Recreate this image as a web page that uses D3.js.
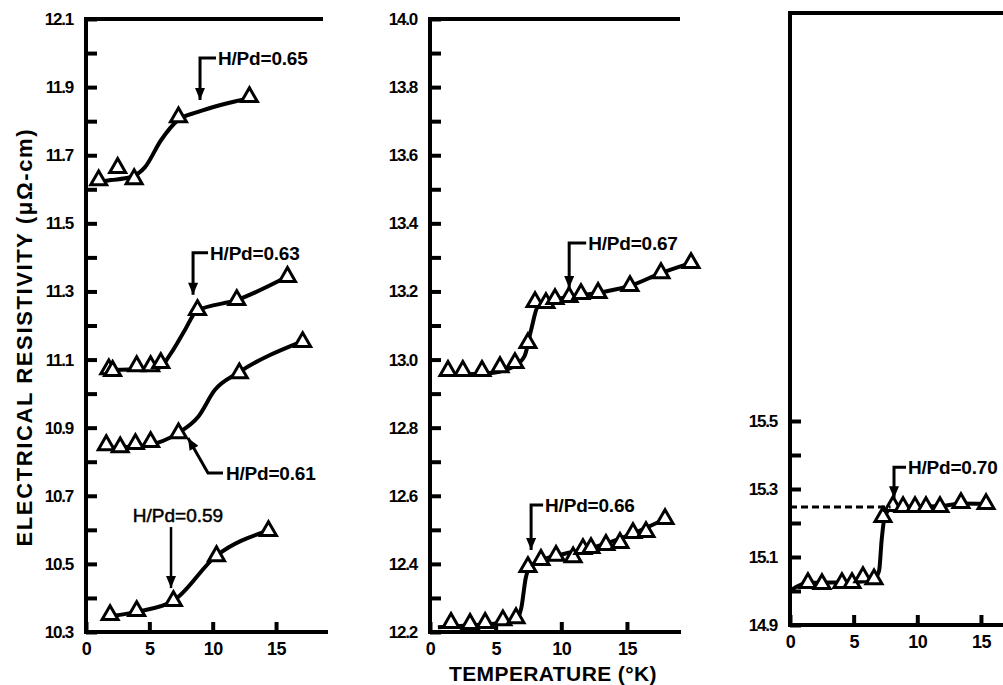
<!DOCTYPE html>
<html>
<head>
<meta charset="utf-8">
<script src="https://cdn.jsdelivr.net/npm/d3@7"></script>
<style>
  body { margin: 0; background: #fff; }
  svg { display: block; }
  text { font-family: "Liberation Sans", Arial, sans-serif; font-weight: bold; fill: #000; }
</style>
</head>
<body>
<svg id="chart" width="1003" height="685"></svg>
<script>
// measured points [T (K), rho (uOhm-cm)]
var pts059 = [[1.9,10.350],[4.0,10.362],[6.9,10.391],[10.3,10.523],[14.4,10.597]];
var pts061 = [[1.6,10.849],[2.7,10.843],[3.9,10.852],[5.1,10.858],[7.3,10.884],[12.1,11.060],[17.1,11.152]];
var pts063 = [[1.8,11.072],[2.1,11.067],[4.0,11.081],[5.1,11.081],[5.9,11.090],[8.8,11.246],[11.9,11.275],[15.9,11.343]];
var pts065 = [[1.0,11.627],[2.5,11.663],[3.8,11.630],[7.3,11.812],[12.9,11.871]];
var pts066 = [[1.6,12.227],[3.05,12.224],[4.2,12.227],[5.55,12.235],[6.55,12.241],[7.46,12.391],[8.45,12.412],[9.6,12.424],
              [10.9,12.420],[11.65,12.444],[12.26,12.447],[13.4,12.456],[14.47,12.462],[15.46,12.491],[16.45,12.494],[17.9,12.532]];
var pts067 = [[1.37,12.967],[2.5,12.967],[3.96,12.967],[5.33,12.978],[6.47,12.990],[7.46,13.049],[8.0,13.169],[8.83,13.166],
              [9.52,13.178],[10.59,13.184],[11.5,13.193],[12.8,13.196],[15.23,13.216],[17.59,13.254],[19.88,13.284]];
var pts070 = [[1.41,15.024],[2.51,15.021],[4.08,15.024],[4.87,15.024],[5.73,15.041],[6.6,15.035],[7.3,15.218],[8.09,15.250],
              [8.88,15.247],[9.82,15.247],[10.68,15.247],[11.78,15.247],[13.43,15.259],[15.4,15.256]];

// hand drawn smooth curves through the data
var fit059 = [[1.5,10.344],[3.95,10.359],[6.87,10.391],[10.26,10.523],[14.29,10.597]];
var fit061 = [[1.5,10.840],[4.89,10.849],[7.26,10.884],[8.84,10.931],[10.18,11.011],[12.0,11.061],[16.97,11.152]];
var fit063 = [[1.5,11.069],[5.68,11.075],[6.87,11.128],[7.81,11.187],[8.76,11.243],[11.92,11.275],[15.86,11.343]];
var fit065 = [[0.71,11.621],[1.97,11.627],[3.55,11.636],[4.66,11.665],[5.92,11.744],[7.26,11.803],[8.84,11.827],[12.94,11.868]];
var fit066 = [[0.6,12.214],[4.0,12.222],[6.5,12.232],[6.95,12.27],[7.3,12.36],[7.6,12.39],[8.45,12.41],[9.6,12.424],
              [12.3,12.447],[15.5,12.49],[17.9,12.532]];
var fit067 = [[0.8,12.955],[4.4,12.960],[6.4,12.980],[7.2,13.010],[7.7,13.087],[8.2,13.155],[9.0,13.170],[12.8,13.196],
              [15.2,13.216],[17.6,13.254],[19.9,13.284]];
var fit070 = [[0.1,15.003],[1.4,15.024],[5.0,15.026],[6.6,15.035],[7.0,15.06],[7.2,15.15],[7.45,15.22],[8.1,15.247],
              [12.0,15.250],[13.4,15.257],[15.4,15.256]];
var dash070 = [[0,15.247],[7.9,15.247]];

var xTicks = [0, 5, 10, 15];
var yMajorL = [10.3,10.5,10.7,10.9,11.1,11.3,11.5,11.7,11.9,12.1];
var yMinorL = [10.4,10.6,10.8,11.0,11.2,11.4,11.6,11.8,12.0];
var yMajorM = [12.2,12.4,12.6,12.8,13.0,13.2,13.4,13.6,13.8,14.0];
var yMinorM = [12.3,12.5,12.7,12.9,13.1,13.3,13.5,13.7,13.9];
var yMajorR = [14.9,15.1,15.3,15.5];
var yMinorR = [15.0,15.2,15.4];

var svg = d3.select("#chart");
svg.append("rect").attr("width",1003).attr("height",685).attr("fill","#fff");

var defs = svg.append("defs");
defs.append("marker").attr("id","head").attr("viewBox","0 0 12 10")
    .attr("refX",12).attr("refY",5).attr("markerWidth",13).attr("markerHeight",10)
    .attr("markerUnits","userSpaceOnUse").attr("orient","auto")
  .append("path").attr("d","M0,0L12,5L0,10Z").attr("fill","#000");

var panels = [
  {x0:86, k:12.67, yDom:[10.3,12.1], yRng:[632,19], top:323, bot:328, major:yMajorL, minor:yMinorL,
   series:[[pts065,fit065],[pts063,fit063],[pts061,fit061],[pts059,fit059]]},
  {x0:430, k:13.13, yDom:[12.2,14.0], yRng:[632,19], top:680, bot:681, major:yMajorM, minor:yMinorM,
   series:[[pts067,fit067],[pts066,fit066]]},
  {x0:790, k:12.73, yDom:[14.9,16.7], yRng:[625,13], top:1003, bot:1003, major:yMajorR, minor:yMinorR,
   series:[[pts070,fit070]]}
];

panels.forEach(function(p){
  p.x = d3.scaleLinear().domain([0,19]).range([p.x0, p.x0 + 19*p.k]);
  p.y = d3.scaleLinear().domain(p.yDom).range(p.yRng);
  var g = svg.append("g");
  var yb = p.yRng[0], yt = p.yRng[1];

  // frame
  g.append("path").attr("d","M"+p.top+","+yt+"H"+p.x0+"V"+yb+"H"+p.bot)
    .attr("fill","none").attr("stroke","#000").attr("stroke-width",4).attr("stroke-linejoin","miter");

  var ax = g.append("g").attr("transform","translate("+p.x0+",0)")
    .call(d3.axisLeft(p.y).tickValues(p.major).tickFormat(d3.format(".1f"))
      .tickSizeInner(-11).tickSizeOuter(0).tickPadding(13));
  g.append("g").attr("transform","translate("+p.x0+",0)")
    .call(d3.axisLeft(p.y).tickValues(p.minor).tickFormat("").tickSizeInner(-11).tickSizeOuter(0));
  var bx = g.append("g").attr("transform","translate(0,"+yb+")")
    .call(d3.axisBottom(p.x).tickValues(xTicks).tickFormat(d3.format("d"))
      .tickSizeInner(-10).tickSizeOuter(0).tickPadding(9));
  g.selectAll(".domain").remove();
  g.selectAll(".tick line").attr("stroke","#000").attr("stroke-width",4);
  ax.selectAll("text").style("font-size","17px").style("letter-spacing","-1.2px");
  bx.selectAll("text").style("font-size","18px").style("letter-spacing","-0.5px").attr("dy","0.8em");

  var line = d3.line().x(function(d){return p.x(d[0]);}).y(function(d){return p.y(d[1]);})
    .curve(d3.curveMonotoneX);
  var tri = d3.symbol().type(d3.symbolTriangle).size(110);
  p.series.forEach(function(s){
    g.append("path").datum(s[1]).attr("d",line).attr("fill","none")
      .attr("stroke","#000").attr("stroke-width",4);
    g.selectAll(null).data(s[0]).enter().append("path")
      .attr("d",tri)
      .attr("transform",function(d){return "translate("+p.x(d[0])+","+p.y(d[1])+")";})
      .attr("fill","#fff").attr("stroke","#000").attr("stroke-width",3);
  });
});

// dashed reference line, H/Pd = 0.70
var pR = panels[2];
svg.append("path").datum(dash070)
  .attr("d", d3.line().x(function(d){return pR.x(d[0]);}).y(function(d){return pR.y(d[1]);}))
  .attr("stroke","#000").attr("stroke-width",3).attr("stroke-dasharray","7,4");

// annotations: tip in data units, stem length and bracket in px
var notes = [
  {p:0, t:9.0,  r:11.862, stem:42, arm:16, label:"H/Pd=0.65"},
  {p:0, t:8.45, r:11.290, stem:42, arm:15, label:"H/Pd=0.63"},
  {p:1, t:10.6, r:13.210, stem:45, arm:17, label:"H/Pd=0.67"},
  {p:1, t:7.7,  r:12.441, stem:45, arm:12, label:"H/Pd=0.66"},
  {p:2, t:8.17, r:15.273, stem:31, arm:12, label:"H/Pd=0.70"}
];
notes.forEach(function(n){
  var p = panels[n.p], tx = p.x(n.t), ty = p.y(n.r), top = ty - n.stem;
  svg.append("path").attr("d","M"+(tx+n.arm)+","+top+"H"+tx+"V"+ty)
    .attr("fill","none").attr("stroke","#000").attr("stroke-width",3)
    .attr("marker-end","url(#head)");
  svg.append("text").attr("x",tx+n.arm+2).attr("y",top).attr("dy","0.36em")
    .style("font-size","19px").style("letter-spacing","-0.2px").text(n.label);
});

// H/Pd = 0.59: label above a plain arrow
var pL = panels[0];
var t59 = pL.x(6.71), r59 = pL.y(10.429);
svg.append("path").attr("d","M"+t59+","+(r59-61)+"V"+r59)
  .attr("stroke","#000").attr("stroke-width",2.5).attr("marker-end","url(#head)");
svg.append("text").attr("x",t59+7).attr("y",r59-73).attr("dy","0.36em").attr("text-anchor","middle")
  .style("font-size","19px").style("font-weight","normal").style("stroke","#000").style("stroke-width","0.5px")
  .text("H/Pd=0.59");

// H/Pd = 0.61: elbow arrow from below right
var t61 = pL.x(8.05), r61 = pL.y(10.870);
svg.append("path").attr("d","M"+(t61+35)+","+(r61+35)+"H"+(t61+20)+"L"+t61+","+r61)
  .attr("fill","none").attr("stroke","#000").attr("stroke-width",3).attr("marker-end","url(#head)");
svg.append("text").attr("x",t61+38).attr("y",r61+35).attr("dy","0.36em")
  .style("font-size","19px").style("letter-spacing","-0.2px").text("H/Pd=0.61");

// axis titles
svg.append("text").attr("transform","translate(32,338) rotate(-90)").attr("text-anchor","middle")
  .attr("textLength",417).attr("lengthAdjust","spacing")
  .style("font-size","22px").text("ELECTRICAL RESISTIVITY (μΩ-cm)");
svg.append("text").attr("x",553).attr("y",681).attr("text-anchor","middle")
  .style("font-size","21px").style("letter-spacing","0.4px").text("TEMPERATURE (°K)");
</script>
</body>
</html>
